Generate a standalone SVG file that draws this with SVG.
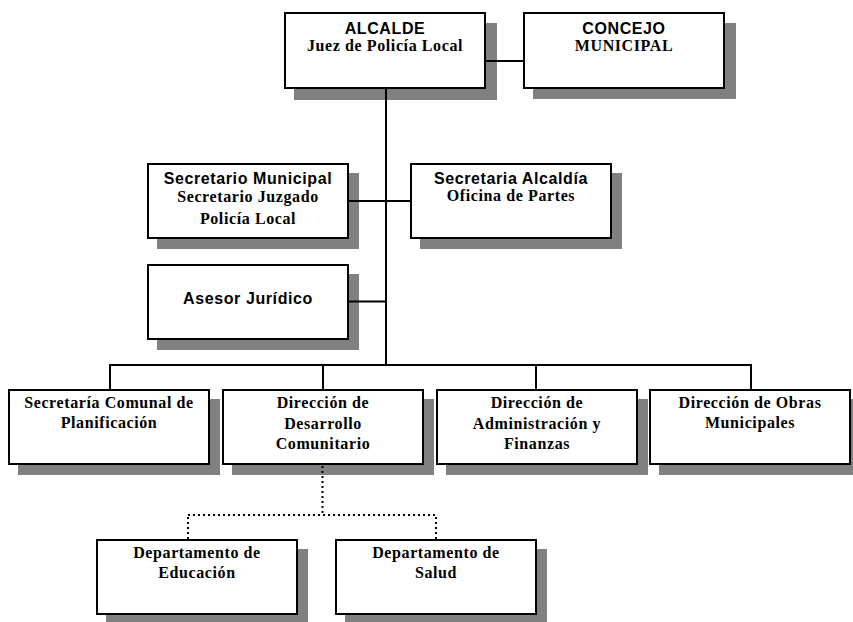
<svg xmlns="http://www.w3.org/2000/svg" width="853" height="622" viewBox="0 0 853 622">
<style>
.sh{fill:#808080;stroke:none}
.bx{fill:#ffffff;stroke:#000000;stroke-width:2}
.s{font-family:"Liberation Sans",Arial,sans-serif;font-weight:bold;font-size:16px;letter-spacing:0.6px;text-anchor:middle;fill:#000}
.t{font-family:"Liberation Serif","Times New Roman",serif;font-weight:bold;font-size:16px;letter-spacing:0.6px;text-anchor:middle;fill:#000}
.ln{stroke:#000;stroke-width:2;fill:none}
.dt{stroke:#000;stroke-width:2;fill:none;stroke-dasharray:2 3}
</style>
<rect width="853" height="622" fill="#ffffff"/>
<g id="alcalde">
<rect class="sh" x="294" y="23" width="203" height="77"/>
<rect class="bx" x="285" y="13" width="200" height="75"/>
<text class="s" x="385" y="34">ALCALDE</text>
<text class="t" x="385" y="51">Juez de Policía Local</text>
</g>
<g id="concejo">
<rect class="sh" x="533" y="23" width="203" height="76"/>
<rect class="bx" x="524" y="13" width="200" height="75"/>
<text class="s" x="624" y="34">CONCEJO</text>
<text class="t" x="624" y="51">MUNICIPAL</text>
</g>
<g id="secretario-municipal">
<rect class="sh" x="157" y="173" width="202" height="76"/>
<rect class="bx" x="148" y="164" width="200" height="74"/>
<text class="s" x="248" y="184">Secretario Municipal</text>
<text class="t" x="248" y="202">Secretario Juzgado</text>
<text class="t" x="248" y="224">Policía Local</text>
</g>
<g id="secretaria-alcaldia">
<rect class="sh" x="420" y="173" width="202" height="76"/>
<rect class="bx" x="411" y="164" width="200" height="74"/>
<text class="s" x="511" y="184">Secretaria Alcaldía</text>
<text class="t" x="511" y="201">Oficina de Partes</text>
</g>
<g id="asesor">
<rect class="sh" x="157" y="274" width="202" height="76"/>
<rect class="bx" x="148" y="265" width="200" height="74"/>
<text class="s" x="248" y="304">Asesor Jurídico</text>
</g>
<g id="secplan">
<rect class="sh" x="18" y="399" width="202" height="76"/>
<rect class="bx" x="9" y="390" width="200" height="74"/>
<text class="t" x="109" y="408">Secretaría Comunal de</text>
<text class="t" x="109" y="428">Planificación</text>
</g>
<g id="dideco">
<rect class="sh" x="232" y="399" width="202" height="76"/>
<rect class="bx" x="223" y="390" width="200" height="74"/>
<text class="t" x="323" y="408">Dirección de</text>
<text class="t" x="323" y="429">Desarrollo</text>
<text class="t" x="323" y="449">Comunitario</text>
</g>
<g id="daf">
<rect class="sh" x="446" y="399" width="202" height="76"/>
<rect class="bx" x="437" y="390" width="200" height="74"/>
<text class="t" x="537" y="408">Dirección de</text>
<text class="t" x="537" y="429">Administración y</text>
<text class="t" x="537" y="449">Finanzas</text>
</g>
<g id="dom">
<rect class="sh" x="659" y="399" width="202" height="76"/>
<rect class="bx" x="650" y="390" width="200" height="74"/>
<text class="t" x="750" y="408">Dirección de Obras</text>
<text class="t" x="750" y="428">Municipales</text>
</g>
<g id="educacion">
<rect class="sh" x="106" y="549" width="202" height="76"/>
<rect class="bx" x="97" y="540" width="200" height="74"/>
<text class="t" x="197" y="558">Departamento de</text>
<text class="t" x="197" y="578">Educación</text>
</g>
<g id="salud">
<rect class="sh" x="345" y="549" width="202" height="76"/>
<rect class="bx" x="336" y="540" width="200" height="74"/>
<text class="t" x="436" y="558">Departamento de</text>
<text class="t" x="436" y="578">Salud</text>
</g>
<g id="connectors">
<line class="ln" x1="486" y1="61" x2="523" y2="61"/>
<line class="ln" x1="386" y1="89" x2="386" y2="365"/>
<line class="ln" x1="349" y1="201" x2="410" y2="201"/>
<line class="ln" x1="349" y1="301.5" x2="386" y2="301.5"/>
<line class="ln" x1="109" y1="365" x2="751" y2="365"/>
<line class="ln" x1="110" y1="364" x2="110" y2="389"/>
<line class="ln" x1="323" y1="364" x2="323" y2="389"/>
<line class="ln" x1="536" y1="364" x2="536" y2="389"/>
<line class="ln" x1="751" y1="364" x2="751" y2="389"/>
<line class="dt" x1="322.5" y1="466" x2="322.5" y2="515"/>
<line class="dt" x1="188" y1="515" x2="437" y2="515"/>
<line class="dt" x1="188" y1="517" x2="188" y2="539"/>
<line class="dt" x1="436" y1="517" x2="436" y2="539"/>
</g>
</svg>
